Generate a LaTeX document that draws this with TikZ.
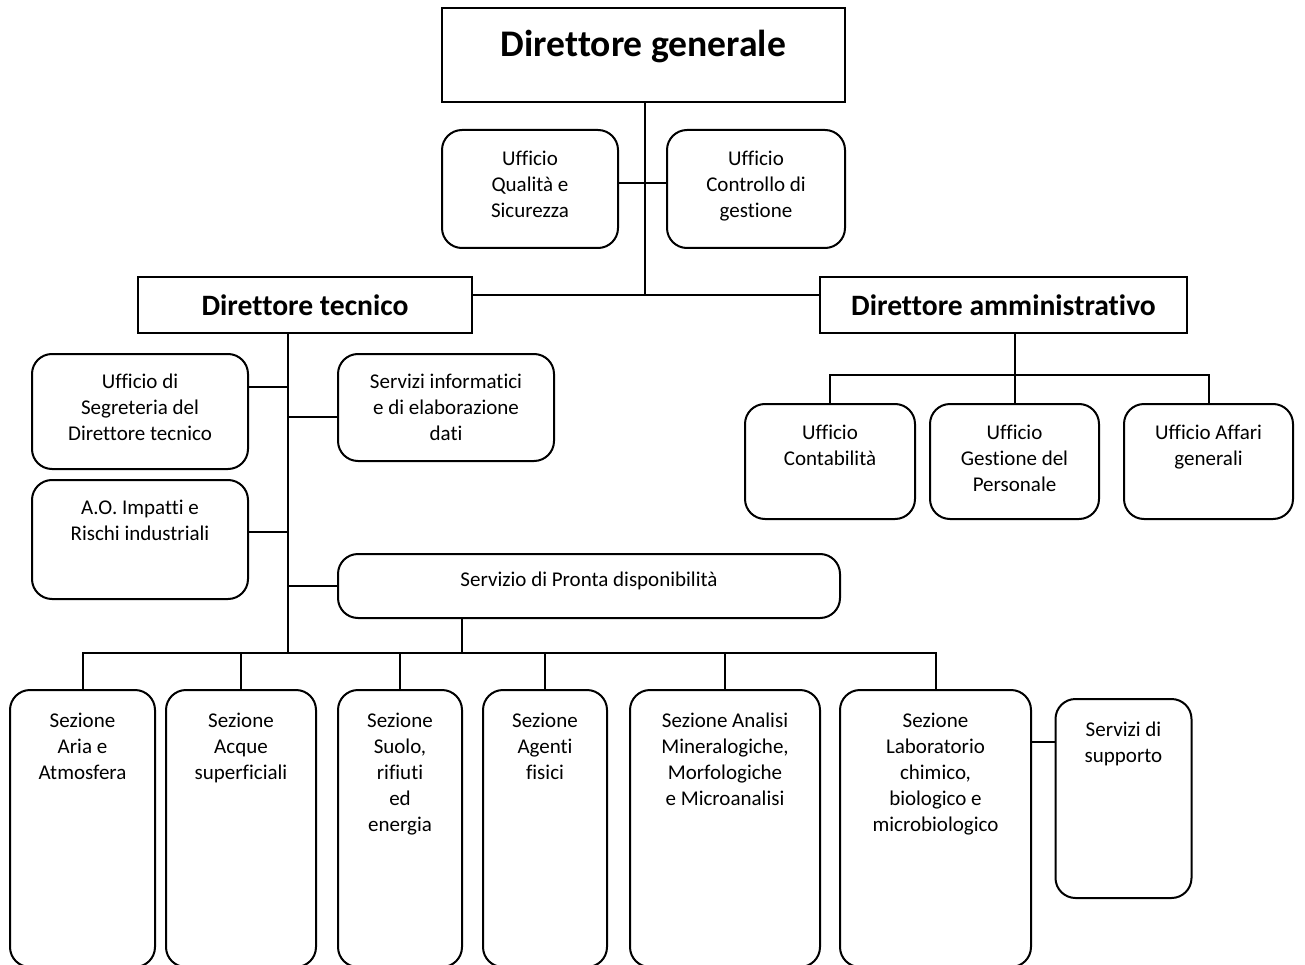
\documentclass[tikz,border=0pt]{standalone}
\usepackage{fontspec}
\setmainfont{Carlito}[Ligatures=NoCommon]
\usetikzlibrary{positioning}

\tikzset{
  orgbox/.style={draw, line width=2pt, rounded corners=20pt, inner sep=0pt},
  headbox/.style={draw, line width=2pt, inner sep=0pt, font=\bfseries\fontsize{29.6}{35}\selectfont},
  boxtext/.style={align=center, inner sep=0pt, font=\fontsize{21}{26}\selectfont},
  link/.style={line width=2pt}
}

\begin{document}
\begin{tikzpicture}[x=1pt, y=-1pt]
  \useasboundingbox (0,0) rectangle (1305,965);
  \clip (0,0) rectangle (1305,965);

  % direzione generale
  \node[headbox, minimum width=403pt, minimum height=94pt] (dg) at (643.5,55) {};
  \node[boxtext, font=\bfseries\fontsize{37.6}{45}\selectfont, below=23pt of dg.north] (dgt) {Direttore generale};
  \node[orgbox, minimum width=176pt, minimum height=118pt] (uqs) at (530,189) {};
  \node[boxtext, below=22pt of uqs.north] {Ufficio\\Qualità e\\Sicurezza};
  \node[orgbox, minimum width=178pt, minimum height=118pt] (ucg) at (756,189) {};
  \node[boxtext, below=22pt of ucg.north] {Ufficio\\Controllo di\\gestione};

  \node[headbox, minimum width=334pt, minimum height=56pt] (dt) at (305,305) {Direttore tecnico};
  \node[headbox, minimum width=367pt, minimum height=56pt] (da) at (1003.5,305) {Direttore amministrativo};

  \coordinate (jdg) at (645,295);
  \coordinate (jq) at (645,183);
  \draw[link] (dg.south -| jdg) -- (jdg);
  \draw[link] (uqs.east |- jq) -- (ucg.west |- jq);
  \draw[link] (dt.east |- jdg) -- (da.west |- jdg);

  % area amministrativa
  \foreach \n/\x/\w/\t in {uc/830/170/{Ufficio\\Contabilità},
      ugp/1014.5/169/{Ufficio\\Gestione del\\Personale},
      uag/1208.5/169/{Ufficio Affari\\generali}} {
    \node[orgbox, minimum width=\w pt, minimum height=115pt] (\n) at (\x,461.5) {};
    \node[boxtext, below=22pt of \n.north] {\t};
  }
  \coordinate (jda) at (1015,375);
  \draw[link] (da.south -| jda) -- (jda);
  \draw[link] (uc.north) |- (jda) -| (uag.north);
  \draw[link] (jda) -- (jda |- ugp.north);

  % area tecnica
  \node[orgbox, minimum width=216pt, minimum height=115pt] (usdt) at (140,411.5) {};
  \node[boxtext, below=21pt of usdt.north] {Ufficio di\\Segreteria del\\Direttore tecnico};
  \node[orgbox, minimum width=216pt, minimum height=107pt] (sied) at (446,407.5) {};
  \node[boxtext, below=21pt of sied.north] {Servizi informatici\\e di elaborazione\\dati};
  \node[orgbox, minimum width=216pt, minimum height=119pt] (aoi) at (140,539.5) {};
  \node[boxtext, below=21pt of aoi.north] {A.O. Impatti e\\Rischi industriali};
  \node[orgbox, minimum width=502pt, minimum height=64pt] (spd) at (589,586) {};
  \node[boxtext, below=19pt of spd.north] {Servizio di Pronta disponibilità};

  \coordinate (jdt) at (288,653);
  \coordinate (jspd) at (462,653);
  \draw[link] (dt.south -| jdt) -- (jdt);
  \draw[link] ([yshift=25pt]usdt.east) coordinate (a1) -- (a1 -| jdt);
  \draw[link] ([yshift=-9.5pt]sied.west) coordinate (a2) -- (a2 -| jdt);
  \draw[link] ([yshift=7.5pt]aoi.east) coordinate (a3) -- (a3 -| jdt);
  \draw[link] (spd.west) -- (spd.west -| jdt);
  \draw[link] (spd.south -| jspd) -- (jspd);

  % sezioni
  \foreach \n/\x/\w/\t in {saa/82.5/145/{Sezione\\Aria e\\Atmosfera},
      sas/241/150/{Sezione\\Acque\\superficiali},
      ssre/400/124/{Sezione\\Suolo,\\rifiuti\\ed\\energia},
      saf/545/124/{Sezione\\Agenti\\fisici},
      sam/725/190/{Sezione Analisi\\Mineralogiche,\\Morfologiche\\e Microanalisi},
      slc/935.5/191/{Sezione\\Laboratorio\\chimico,\\biologico e\\microbiologico}} {
    \node[orgbox, minimum width=\w pt, minimum height=277pt] (\n) at (\x,828.5) {};
    \node[boxtext, below=24pt of \n.north] {\t};
  }
  \node[orgbox, minimum width=136pt, minimum height=199pt] (sds) at (1123.5,798.5) {};
  \node[boxtext, below=24pt of sds.north] {Servizi di\\supporto};

  \draw[link] (saa.north) |- (jspd) -| (slc.north);
  \foreach \n in {sas,ssre,saf,sam}
    \draw[link] (\n.north) -- (\n.north |- jspd);
  \draw[link] ([yshift=56.5pt]sds.west) coordinate (a4) -- (a4 -| slc.east);
\end{tikzpicture}
\end{document}
